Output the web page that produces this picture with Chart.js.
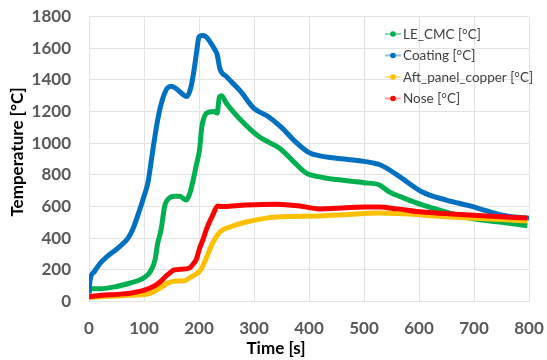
<!DOCTYPE html>
<html>
<head>
<meta charset="utf-8">
<script src="https://cdn.jsdelivr.net/npm/chart.js@4.4.1/dist/chart.umd.min.js"></script>
<style>
  html, body { margin: 0; padding: 0; background: #ffffff; }
  #wrap { width: 547px; height: 360px; position: relative; }
</style>
</head>
<body>
<div id="wrap"><canvas id="c" width="547" height="360"></canvas></div>
<script>
// Series labels
const seriesLabels = ['LE_CMC [°C]', 'Coating [°C]', 'Aft_panel_copper [°C]', 'Nose [°C]'];
const xAxisTitle = 'Time [s]';
const yAxisTitle = 'Temperature [°C]';

// LE_CMC thermocouple
const leTime = [0, 2, 20, 50, 75, 92, 100, 111, 120, 125, 131, 138, 145, 155, 165, 172, 177, 183, 189, 195, 201, 205, 210, 219, 228, 233, 237, 241, 250, 275, 310, 346, 370, 395, 419, 450, 500, 528, 546, 575, 606, 650, 691, 750, 797];
const leTemp = [55, 80, 80, 95, 117, 136, 150, 186, 262, 369, 453, 609, 650, 665, 665, 650, 641, 680, 760, 860, 960, 1100, 1170, 1197, 1200, 1190, 1290, 1300, 1250, 1150, 1039, 969, 890, 811, 787, 770, 750, 736, 692, 650, 610, 565, 527, 500, 478];

// Coating surface
const coatTime = [0, 2, 10, 20, 35, 50, 60, 71, 80, 92, 100, 107, 116, 125, 134, 143, 150, 160, 170, 178, 185, 190, 195, 200, 205, 212, 220, 229, 233, 238, 250, 275, 300, 325, 350, 375, 400, 420, 450, 500, 530, 560, 606, 650, 691, 720, 751, 800];
const coatTemp = [50, 135, 190, 240, 290, 330, 360, 400, 460, 578, 665, 748, 955, 1150, 1280, 1350, 1360, 1340, 1310, 1295, 1350, 1440, 1560, 1670, 1680, 1675, 1640, 1590, 1560, 1470, 1420, 1330, 1220, 1170, 1100, 1010, 940, 920, 905, 885, 862, 800, 692, 640, 605, 575, 545, 525];

// Aft panel copper
const aftTime = [0, 20, 50, 74, 111, 129, 147, 165, 175, 183, 195, 201, 207, 214, 225, 238, 260, 286, 341, 419, 470, 528, 560, 606, 650, 691, 750, 797];
const aftTemp = [25, 30, 35, 40, 52, 85, 123, 130, 132, 150, 175, 190, 225, 281, 370, 439, 475, 502, 534, 540, 550, 559, 555, 546, 535, 527, 518, 508];

// Nose
const noseTime = [0, 20, 50, 74, 102, 120, 129, 140, 147, 155, 165, 183, 189, 195, 201, 207, 215, 225, 234, 240, 286, 341, 380, 419, 460, 500, 528, 560, 606, 650, 691, 750, 797];
const noseTemp = [30, 38, 45, 52, 73, 100, 123, 160, 180, 200, 203, 212, 235, 265, 335, 389, 470, 546, 603, 600, 610, 615, 605, 585, 590, 597, 597, 585, 565, 555, 546, 535, 527];

// Axis ranges and tick steps
const xMin = 0, xMax = 800, xStep = 100;
const yMin = 0, yMax = 1800, yStep = 200;

const colors = ['#00b050', '#0070c0', '#ffc000', '#ff0000'];
const lightColors = ['rgba(0,176,80,0.45)', 'rgba(0,112,192,0.45)', 'rgba(255,192,0,0.45)', 'rgba(255,0,0,0.35)'];

function pairs(t, v) { return t.map((x, i) => ({ x: x, y: v[i] })); }

const seriesData = [pairs(leTime, leTemp), pairs(coatTime, coatTemp), pairs(aftTime, aftTemp), pairs(noseTime, noseTemp)];

const datasets = seriesData.map((d, i) => ({
  label: seriesLabels[i],
  data: d,
  borderColor: colors[i],
  backgroundColor: colors[i],
  borderWidth: 5,
  pointRadius: 0,
  fill: false,
  cubicInterpolationMode: 'monotone',
  order: 3 - i
}));

const FONT = 'Lato, "Open Sans", "DejaVu Sans", sans-serif';

// Legend drawn inside the plot area, top right
const innerLegend = {
  id: 'innerLegend',
  afterDraw(chart) {
    const ctx = chart.ctx;
    ctx.save();
    const x0 = 385, y0 = 34, dy = 21.5;
    ctx.font = '13.5px ' + FONT;
    ctx.textBaseline = 'middle';
    ctx.textAlign = 'left';
    seriesLabels.forEach((lab, i) => {
      const y = y0 + i * dy;
      ctx.strokeStyle = lightColors[i];
      ctx.lineWidth = 2;
      ctx.beginPath();
      ctx.moveTo(x0, y);
      ctx.lineTo(x0 + 16, y);
      ctx.stroke();
      ctx.fillStyle = colors[i];
      ctx.beginPath();
      ctx.arc(x0 + 8, y, 2.8, 0, Math.PI * 2);
      ctx.fill();
      ctx.fillStyle = '#404040';
      ctx.fillText(lab, x0 + 18, y + 0.5);
    });
    ctx.restore();
  }
};

// Axis titles
const axisTitles = {
  id: 'axisTitles',
  afterDraw(chart) {
    const ctx = chart.ctx;
    ctx.save();
    ctx.fillStyle = '#000000';
    ctx.font = 'bold 17px ' + FONT;
    ctx.textAlign = 'center';
    ctx.textBaseline = 'middle';
    ctx.fillText(xAxisTitle, 276, 349);
    ctx.translate(18, 152);
    ctx.rotate(-Math.PI / 2);
    ctx.fillText(yAxisTitle, 0, 0);
    ctx.restore();
  }
};

new Chart(document.getElementById('c'), {
  type: 'line',
  data: { datasets: datasets },
  options: {
    responsive: false,
    animation: false,
    devicePixelRatio: 1,
    layout: { padding: { top: 16.5, right: 18, left: 0, bottom: 0 } },
    plugins: {
      legend: { display: false },
      tooltip: { enabled: false },
      title: { display: false }
    },
    scales: {
      x: {
        type: 'linear',
        min: xMin, max: xMax,
        ticks: {
          stepSize: xStep,
          color: '#595959',
          font: { family: FONT, size: 17, weight: 'bold' },
          padding: 17,
          maxRotation: 0,
          callback: (v) => String(v)
        },
        grid: { color: '#e3e3e3', lineWidth: 1, drawTicks: false },
        border: { display: false },
        afterFit(scale) {
          scale.height = 58.5;
          scale.paddingLeft = 0;
          scale.paddingRight = 0;
        }
      },
      y: {
        type: 'linear',
        min: yMin, max: yMax,
        ticks: {
          stepSize: yStep,
          color: '#595959',
          font: { family: FONT, size: 17, weight: 'bold' },
          padding: 18,
          callback: (v) => String(v)
        },
        grid: { color: '#e3e3e3', lineWidth: 1, drawTicks: false },
        border: { display: false },
        afterFit(scale) {
          scale.width = 89;
          scale.paddingTop = 0;
          scale.paddingBottom = 0;
        }
      }
    }
  },
  plugins: [innerLegend, axisTitles]
});
</script>
</body>
</html>
